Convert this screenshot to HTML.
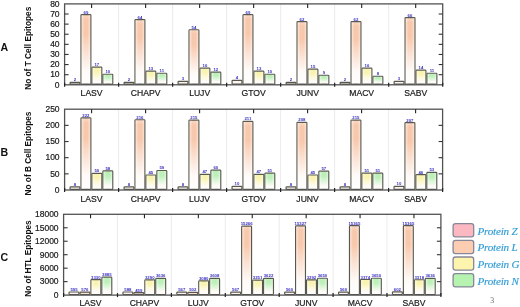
<!DOCTYPE html>
<html><head><meta charset="utf-8"><title>Epitopes chart</title>
<style>html,body{margin:0;padding:0;background:#fff;}body{width:520px;height:307px;overflow:hidden;}svg{display:block;will-change:transform;}.t{font-family:"Liberation Sans",sans-serif;}</style></head><body>
<svg width="520" height="307" viewBox="0 0 520 307">
<defs>
<linearGradient id="g0" x1="0" y1="0" x2="0" y2="1"><stop offset="0" stop-color="#fcd6da"/><stop offset="0.07" stop-color="#f9bcc3"/><stop offset="0.28" stop-color="#f9bcc3"/><stop offset="0.55" stop-color="#fcdfe2"/><stop offset="0.8" stop-color="#fefaf7"/><stop offset="1" stop-color="#ffffff"/></linearGradient>
<linearGradient id="g1" x1="0" y1="0" x2="0" y2="1"><stop offset="0" stop-color="#fbdac8"/><stop offset="0.07" stop-color="#f8c8ac"/><stop offset="0.28" stop-color="#f8c8ac"/><stop offset="0.55" stop-color="#fbe2d4"/><stop offset="0.8" stop-color="#fefaf7"/><stop offset="1" stop-color="#ffffff"/></linearGradient>
<linearGradient id="g2" x1="0" y1="0" x2="0" y2="1"><stop offset="0" stop-color="#fbf8d6"/><stop offset="0.07" stop-color="#f9f3b0"/><stop offset="0.28" stop-color="#f9f3b0"/><stop offset="0.55" stop-color="#fcf9d8"/><stop offset="0.8" stop-color="#fefaf7"/><stop offset="1" stop-color="#ffffff"/></linearGradient>
<linearGradient id="g3" x1="0" y1="0" x2="0" y2="1"><stop offset="0" stop-color="#dcf8d8"/><stop offset="0.07" stop-color="#bdf0b9"/><stop offset="0.28" stop-color="#bdf0b9"/><stop offset="0.55" stop-color="#dcf7d9"/><stop offset="0.8" stop-color="#fefaf7"/><stop offset="1" stop-color="#ffffff"/></linearGradient>
<linearGradient id="hl" x1="0" y1="0" x2="1" y2="0"><stop offset="0" stop-color="#fff" stop-opacity="0.55"/><stop offset="0.3" stop-color="#fff" stop-opacity="0"/><stop offset="0.7" stop-color="#fff" stop-opacity="0"/><stop offset="1" stop-color="#fff" stop-opacity="0.45"/></linearGradient>
</defs>
<rect x="0" y="0" width="520" height="307" fill="#ffffff"/>
<line x1="118.61" y1="3.90" x2="118.61" y2="84.80" stroke="#e9e9e9" stroke-width="0.9"/>
<line x1="172.63" y1="3.90" x2="172.63" y2="84.80" stroke="#e9e9e9" stroke-width="0.9"/>
<line x1="226.64" y1="3.90" x2="226.64" y2="84.80" stroke="#e9e9e9" stroke-width="0.9"/>
<line x1="280.66" y1="3.90" x2="280.66" y2="84.80" stroke="#e9e9e9" stroke-width="0.9"/>
<line x1="334.67" y1="3.90" x2="334.67" y2="84.80" stroke="#e9e9e9" stroke-width="0.9"/>
<line x1="388.69" y1="3.90" x2="388.69" y2="84.80" stroke="#e9e9e9" stroke-width="0.9"/>
<rect x="70.05" y="82.33" width="9.85" height="1.87" fill="#fff4f2" stroke="#58584f" stroke-width="1.2" rx="0.7"/>
<text x="74.97" y="81.33" class="t" font-size="4.3" font-weight="bold" fill="#3a30c0" text-anchor="middle">2</text>
<rect x="81.00" y="14.57" width="9.85" height="69.63" fill="url(#g1)" stroke="#58584f" stroke-width="1.2" rx="0.7"/>
<rect x="81.55" y="15.17" width="8.75" height="68.43" fill="url(#hl)"/>
<text x="85.92" y="13.57" class="t" font-size="4.3" font-weight="bold" fill="#3a30c0" text-anchor="middle">69</text>
<rect x="91.95" y="67.16" width="9.85" height="17.04" fill="url(#g2)" stroke="#58584f" stroke-width="1.2" rx="0.7"/>
<rect x="92.50" y="67.76" width="8.75" height="15.84" fill="url(#hl)"/>
<text x="96.88" y="66.16" class="t" font-size="4.3" font-weight="bold" fill="#3a30c0" text-anchor="middle">17</text>
<rect x="102.90" y="74.24" width="9.85" height="9.96" fill="url(#g3)" stroke="#58584f" stroke-width="1.2" rx="0.7"/>
<rect x="103.45" y="74.84" width="8.75" height="8.76" fill="url(#hl)"/>
<text x="107.82" y="73.24" class="t" font-size="4.3" font-weight="bold" fill="#3a30c0" text-anchor="middle">10</text>
<rect x="124.06" y="82.33" width="9.85" height="1.87" fill="#fff4f2" stroke="#58584f" stroke-width="1.2" rx="0.7"/>
<text x="128.99" y="81.33" class="t" font-size="4.3" font-weight="bold" fill="#3a30c0" text-anchor="middle">2</text>
<rect x="135.01" y="19.63" width="9.85" height="64.57" fill="url(#g1)" stroke="#58584f" stroke-width="1.2" rx="0.7"/>
<rect x="135.56" y="20.23" width="8.75" height="63.37" fill="url(#hl)"/>
<text x="139.94" y="18.63" class="t" font-size="4.3" font-weight="bold" fill="#3a30c0" text-anchor="middle">64</text>
<rect x="145.96" y="71.20" width="9.85" height="13.00" fill="url(#g2)" stroke="#58584f" stroke-width="1.2" rx="0.7"/>
<rect x="146.51" y="71.80" width="8.75" height="11.80" fill="url(#hl)"/>
<text x="150.89" y="70.20" class="t" font-size="4.3" font-weight="bold" fill="#3a30c0" text-anchor="middle">13</text>
<rect x="156.91" y="73.23" width="9.85" height="10.97" fill="url(#g3)" stroke="#58584f" stroke-width="1.2" rx="0.7"/>
<rect x="157.46" y="73.83" width="8.75" height="9.77" fill="url(#hl)"/>
<text x="161.84" y="72.23" class="t" font-size="4.3" font-weight="bold" fill="#3a30c0" text-anchor="middle">11</text>
<rect x="178.08" y="81.32" width="9.85" height="2.88" fill="#fff4f2" stroke="#58584f" stroke-width="1.2" rx="0.7"/>
<text x="183.00" y="80.32" class="t" font-size="4.3" font-weight="bold" fill="#3a30c0" text-anchor="middle">3</text>
<rect x="189.03" y="29.74" width="9.85" height="54.46" fill="url(#g1)" stroke="#58584f" stroke-width="1.2" rx="0.7"/>
<rect x="189.58" y="30.34" width="8.75" height="53.26" fill="url(#hl)"/>
<text x="193.95" y="28.74" class="t" font-size="4.3" font-weight="bold" fill="#3a30c0" text-anchor="middle">54</text>
<rect x="199.98" y="68.17" width="9.85" height="16.03" fill="url(#g2)" stroke="#58584f" stroke-width="1.2" rx="0.7"/>
<rect x="200.53" y="68.77" width="8.75" height="14.83" fill="url(#hl)"/>
<text x="204.90" y="67.17" class="t" font-size="4.3" font-weight="bold" fill="#3a30c0" text-anchor="middle">16</text>
<rect x="210.93" y="72.21" width="9.85" height="11.99" fill="url(#g3)" stroke="#58584f" stroke-width="1.2" rx="0.7"/>
<rect x="211.48" y="72.81" width="8.75" height="10.79" fill="url(#hl)"/>
<text x="215.85" y="71.21" class="t" font-size="4.3" font-weight="bold" fill="#3a30c0" text-anchor="middle">12</text>
<rect x="232.09" y="80.30" width="9.85" height="3.90" fill="#fff4f2" stroke="#58584f" stroke-width="1.2" rx="0.7"/>
<text x="237.02" y="79.30" class="t" font-size="4.3" font-weight="bold" fill="#3a30c0" text-anchor="middle">4</text>
<rect x="243.04" y="14.57" width="9.85" height="69.63" fill="url(#g1)" stroke="#58584f" stroke-width="1.2" rx="0.7"/>
<rect x="243.59" y="15.17" width="8.75" height="68.43" fill="url(#hl)"/>
<text x="247.97" y="13.57" class="t" font-size="4.3" font-weight="bold" fill="#3a30c0" text-anchor="middle">69</text>
<rect x="253.99" y="71.20" width="9.85" height="13.00" fill="url(#g2)" stroke="#58584f" stroke-width="1.2" rx="0.7"/>
<rect x="254.54" y="71.80" width="8.75" height="11.80" fill="url(#hl)"/>
<text x="258.92" y="70.20" class="t" font-size="4.3" font-weight="bold" fill="#3a30c0" text-anchor="middle">13</text>
<rect x="264.94" y="74.24" width="9.85" height="9.96" fill="url(#g3)" stroke="#58584f" stroke-width="1.2" rx="0.7"/>
<rect x="265.49" y="74.84" width="8.75" height="8.76" fill="url(#hl)"/>
<text x="269.87" y="73.24" class="t" font-size="4.3" font-weight="bold" fill="#3a30c0" text-anchor="middle">10</text>
<rect x="286.11" y="82.33" width="9.85" height="1.87" fill="#fff4f2" stroke="#58584f" stroke-width="1.2" rx="0.7"/>
<text x="291.03" y="81.33" class="t" font-size="4.3" font-weight="bold" fill="#3a30c0" text-anchor="middle">2</text>
<rect x="297.06" y="21.65" width="9.85" height="62.55" fill="url(#g1)" stroke="#58584f" stroke-width="1.2" rx="0.7"/>
<rect x="297.61" y="22.25" width="8.75" height="61.35" fill="url(#hl)"/>
<text x="301.98" y="20.65" class="t" font-size="4.3" font-weight="bold" fill="#3a30c0" text-anchor="middle">62</text>
<rect x="308.01" y="69.18" width="9.85" height="15.02" fill="url(#g2)" stroke="#58584f" stroke-width="1.2" rx="0.7"/>
<rect x="308.56" y="69.78" width="8.75" height="13.82" fill="url(#hl)"/>
<text x="312.93" y="68.18" class="t" font-size="4.3" font-weight="bold" fill="#3a30c0" text-anchor="middle">15</text>
<rect x="318.96" y="75.25" width="9.85" height="8.95" fill="url(#g3)" stroke="#58584f" stroke-width="1.2" rx="0.7"/>
<rect x="319.51" y="75.85" width="8.75" height="7.75" fill="url(#hl)"/>
<text x="323.88" y="74.25" class="t" font-size="4.3" font-weight="bold" fill="#3a30c0" text-anchor="middle">9</text>
<rect x="340.12" y="82.33" width="9.85" height="1.87" fill="#fff4f2" stroke="#58584f" stroke-width="1.2" rx="0.7"/>
<text x="345.05" y="81.33" class="t" font-size="4.3" font-weight="bold" fill="#3a30c0" text-anchor="middle">2</text>
<rect x="351.07" y="21.65" width="9.85" height="62.55" fill="url(#g1)" stroke="#58584f" stroke-width="1.2" rx="0.7"/>
<rect x="351.62" y="22.25" width="8.75" height="61.35" fill="url(#hl)"/>
<text x="356.00" y="20.65" class="t" font-size="4.3" font-weight="bold" fill="#3a30c0" text-anchor="middle">62</text>
<rect x="362.02" y="68.17" width="9.85" height="16.03" fill="url(#g2)" stroke="#58584f" stroke-width="1.2" rx="0.7"/>
<rect x="362.57" y="68.77" width="8.75" height="14.83" fill="url(#hl)"/>
<text x="366.95" y="67.17" class="t" font-size="4.3" font-weight="bold" fill="#3a30c0" text-anchor="middle">16</text>
<rect x="372.97" y="76.26" width="9.85" height="7.94" fill="url(#g3)" stroke="#58584f" stroke-width="1.2" rx="0.7"/>
<rect x="373.52" y="76.86" width="8.75" height="6.74" fill="url(#hl)"/>
<text x="377.90" y="75.26" class="t" font-size="4.3" font-weight="bold" fill="#3a30c0" text-anchor="middle">8</text>
<rect x="394.14" y="81.32" width="9.85" height="2.88" fill="#fff4f2" stroke="#58584f" stroke-width="1.2" rx="0.7"/>
<text x="399.06" y="80.32" class="t" font-size="4.3" font-weight="bold" fill="#3a30c0" text-anchor="middle">3</text>
<rect x="405.09" y="17.61" width="9.85" height="66.59" fill="url(#g1)" stroke="#58584f" stroke-width="1.2" rx="0.7"/>
<rect x="405.64" y="18.21" width="8.75" height="65.39" fill="url(#hl)"/>
<text x="410.01" y="16.61" class="t" font-size="4.3" font-weight="bold" fill="#3a30c0" text-anchor="middle">66</text>
<rect x="416.04" y="70.19" width="9.85" height="14.01" fill="url(#g2)" stroke="#58584f" stroke-width="1.2" rx="0.7"/>
<rect x="416.59" y="70.79" width="8.75" height="12.81" fill="url(#hl)"/>
<text x="420.96" y="69.19" class="t" font-size="4.3" font-weight="bold" fill="#3a30c0" text-anchor="middle">14</text>
<rect x="426.99" y="73.23" width="9.85" height="10.97" fill="url(#g3)" stroke="#58584f" stroke-width="1.2" rx="0.7"/>
<rect x="427.54" y="73.83" width="8.75" height="9.77" fill="url(#hl)"/>
<text x="431.91" y="72.23" class="t" font-size="4.3" font-weight="bold" fill="#3a30c0" text-anchor="middle">11</text>
<rect x="64.60" y="3.90" width="378.10" height="80.90" fill="none" stroke="#525252" stroke-width="1.3"/>
<text x="59.60" y="87.60" class="t" font-size="8.5" fill="#1a1a1a" stroke="#1a1a1a" stroke-width="0.2" text-anchor="end">0</text>
<line x1="64.60" y1="74.69" x2="68.60" y2="74.69" stroke="#333" stroke-width="1.1"/>
<line x1="438.70" y1="74.69" x2="442.70" y2="74.69" stroke="#333" stroke-width="1.1"/>
<text x="59.60" y="77.49" class="t" font-size="8.5" fill="#1a1a1a" stroke="#1a1a1a" stroke-width="0.2" text-anchor="end">10</text>
<line x1="64.60" y1="64.57" x2="68.60" y2="64.57" stroke="#333" stroke-width="1.1"/>
<line x1="438.70" y1="64.57" x2="442.70" y2="64.57" stroke="#333" stroke-width="1.1"/>
<text x="59.60" y="67.37" class="t" font-size="8.5" fill="#1a1a1a" stroke="#1a1a1a" stroke-width="0.2" text-anchor="end">20</text>
<line x1="64.60" y1="54.46" x2="68.60" y2="54.46" stroke="#333" stroke-width="1.1"/>
<line x1="438.70" y1="54.46" x2="442.70" y2="54.46" stroke="#333" stroke-width="1.1"/>
<text x="59.60" y="57.26" class="t" font-size="8.5" fill="#1a1a1a" stroke="#1a1a1a" stroke-width="0.2" text-anchor="end">30</text>
<line x1="64.60" y1="44.35" x2="68.60" y2="44.35" stroke="#333" stroke-width="1.1"/>
<line x1="438.70" y1="44.35" x2="442.70" y2="44.35" stroke="#333" stroke-width="1.1"/>
<text x="59.60" y="47.15" class="t" font-size="8.5" fill="#1a1a1a" stroke="#1a1a1a" stroke-width="0.2" text-anchor="end">40</text>
<line x1="64.60" y1="34.24" x2="68.60" y2="34.24" stroke="#333" stroke-width="1.1"/>
<line x1="438.70" y1="34.24" x2="442.70" y2="34.24" stroke="#333" stroke-width="1.1"/>
<text x="59.60" y="37.04" class="t" font-size="8.5" fill="#1a1a1a" stroke="#1a1a1a" stroke-width="0.2" text-anchor="end">50</text>
<line x1="64.60" y1="24.12" x2="68.60" y2="24.12" stroke="#333" stroke-width="1.1"/>
<line x1="438.70" y1="24.12" x2="442.70" y2="24.12" stroke="#333" stroke-width="1.1"/>
<text x="59.60" y="26.93" class="t" font-size="8.5" fill="#1a1a1a" stroke="#1a1a1a" stroke-width="0.2" text-anchor="end">60</text>
<line x1="64.60" y1="14.01" x2="68.60" y2="14.01" stroke="#333" stroke-width="1.1"/>
<line x1="438.70" y1="14.01" x2="442.70" y2="14.01" stroke="#333" stroke-width="1.1"/>
<text x="59.60" y="16.81" class="t" font-size="8.5" fill="#1a1a1a" stroke="#1a1a1a" stroke-width="0.2" text-anchor="end">70</text>
<text x="59.60" y="6.70" class="t" font-size="8.5" fill="#1a1a1a" stroke="#1a1a1a" stroke-width="0.2" text-anchor="end">80</text>
<line x1="91.61" y1="3.90" x2="91.61" y2="7.90" stroke="#222" stroke-width="1.1"/>
<line x1="145.62" y1="3.90" x2="145.62" y2="7.90" stroke="#222" stroke-width="1.1"/>
<line x1="199.64" y1="3.90" x2="199.64" y2="7.90" stroke="#222" stroke-width="1.1"/>
<line x1="253.65" y1="3.90" x2="253.65" y2="7.90" stroke="#222" stroke-width="1.1"/>
<line x1="307.66" y1="3.90" x2="307.66" y2="7.90" stroke="#222" stroke-width="1.1"/>
<line x1="361.68" y1="3.90" x2="361.68" y2="7.90" stroke="#222" stroke-width="1.1"/>
<line x1="415.69" y1="3.90" x2="415.69" y2="7.90" stroke="#222" stroke-width="1.1"/>
<line x1="64.60" y1="82.80" x2="64.60" y2="86.80" stroke="#222" stroke-width="1.2"/>
<line x1="118.61" y1="82.80" x2="118.61" y2="86.80" stroke="#222" stroke-width="1.2"/>
<line x1="172.63" y1="82.80" x2="172.63" y2="86.80" stroke="#222" stroke-width="1.2"/>
<line x1="226.64" y1="82.80" x2="226.64" y2="86.80" stroke="#222" stroke-width="1.2"/>
<line x1="280.66" y1="82.80" x2="280.66" y2="86.80" stroke="#222" stroke-width="1.2"/>
<line x1="334.67" y1="82.80" x2="334.67" y2="86.80" stroke="#222" stroke-width="1.2"/>
<line x1="388.69" y1="82.80" x2="388.69" y2="86.80" stroke="#222" stroke-width="1.2"/>
<line x1="442.70" y1="82.80" x2="442.70" y2="86.80" stroke="#222" stroke-width="1.2"/>
<text x="91.61" y="96.20" class="t" font-size="8.6" fill="#1a1a1a" stroke="#1a1a1a" stroke-width="0.2" text-anchor="middle">LASV</text>
<text x="145.62" y="96.20" class="t" font-size="8.6" fill="#1a1a1a" stroke="#1a1a1a" stroke-width="0.2" text-anchor="middle">CHAPV</text>
<text x="199.64" y="96.20" class="t" font-size="8.6" fill="#1a1a1a" stroke="#1a1a1a" stroke-width="0.2" text-anchor="middle">LUJV</text>
<text x="253.65" y="96.20" class="t" font-size="8.6" fill="#1a1a1a" stroke="#1a1a1a" stroke-width="0.2" text-anchor="middle">GTOV</text>
<text x="307.66" y="96.20" class="t" font-size="8.6" fill="#1a1a1a" stroke="#1a1a1a" stroke-width="0.2" text-anchor="middle">JUNV</text>
<text x="361.68" y="96.20" class="t" font-size="8.6" fill="#1a1a1a" stroke="#1a1a1a" stroke-width="0.2" text-anchor="middle">MACV</text>
<text x="415.69" y="96.20" class="t" font-size="8.6" fill="#1a1a1a" stroke="#1a1a1a" stroke-width="0.2" text-anchor="middle">SABV</text>
<text transform="translate(31.3 48.25) rotate(-90)" x="0" y="0" class="t" font-size="8.25" font-weight="bold" fill="#111" text-anchor="middle">No of T Cell Epitopes</text>
<text x="0.4" y="50.9" class="t" font-size="10.6" font-weight="bold" fill="#111">A</text>
<line x1="118.60" y1="109.20" x2="118.60" y2="190.00" stroke="#e9e9e9" stroke-width="0.9"/>
<line x1="172.60" y1="109.20" x2="172.60" y2="190.00" stroke="#e9e9e9" stroke-width="0.9"/>
<line x1="226.60" y1="109.20" x2="226.60" y2="190.00" stroke="#e9e9e9" stroke-width="0.9"/>
<line x1="280.60" y1="109.20" x2="280.60" y2="190.00" stroke="#e9e9e9" stroke-width="0.9"/>
<line x1="334.60" y1="109.20" x2="334.60" y2="190.00" stroke="#e9e9e9" stroke-width="0.9"/>
<line x1="388.60" y1="109.20" x2="388.60" y2="190.00" stroke="#e9e9e9" stroke-width="0.9"/>
<rect x="70.05" y="186.96" width="9.85" height="2.44" fill="#fff4f2" stroke="#58584f" stroke-width="1.2" rx="0.7"/>
<text x="74.97" y="185.96" class="t" font-size="4.3" font-weight="bold" fill="#3a30c0" text-anchor="middle">8</text>
<rect x="81.00" y="117.80" width="9.85" height="71.60" fill="url(#g1)" stroke="#58584f" stroke-width="1.2" rx="0.7"/>
<rect x="81.55" y="118.40" width="8.75" height="70.40" fill="url(#hl)"/>
<text x="85.92" y="116.80" class="t" font-size="4.3" font-weight="bold" fill="#3a30c0" text-anchor="middle">222</text>
<rect x="91.95" y="173.39" width="9.85" height="16.01" fill="url(#g2)" stroke="#58584f" stroke-width="1.2" rx="0.7"/>
<rect x="92.50" y="173.99" width="8.75" height="14.81" fill="url(#hl)"/>
<text x="96.88" y="172.39" class="t" font-size="4.3" font-weight="bold" fill="#3a30c0" text-anchor="middle">50</text>
<rect x="102.90" y="170.80" width="9.85" height="18.60" fill="url(#g3)" stroke="#58584f" stroke-width="1.2" rx="0.7"/>
<rect x="103.45" y="171.40" width="8.75" height="17.40" fill="url(#hl)"/>
<text x="107.82" y="169.80" class="t" font-size="4.3" font-weight="bold" fill="#3a30c0" text-anchor="middle">58</text>
<rect x="124.05" y="186.96" width="9.85" height="2.44" fill="#fff4f2" stroke="#58584f" stroke-width="1.2" rx="0.7"/>
<text x="128.97" y="185.96" class="t" font-size="4.3" font-weight="bold" fill="#3a30c0" text-anchor="middle">8</text>
<rect x="135.00" y="119.74" width="9.85" height="69.66" fill="url(#g1)" stroke="#58584f" stroke-width="1.2" rx="0.7"/>
<rect x="135.55" y="120.34" width="8.75" height="68.46" fill="url(#hl)"/>
<text x="139.92" y="118.74" class="t" font-size="4.3" font-weight="bold" fill="#3a30c0" text-anchor="middle">216</text>
<rect x="145.95" y="175.01" width="9.85" height="14.39" fill="url(#g2)" stroke="#58584f" stroke-width="1.2" rx="0.7"/>
<rect x="146.50" y="175.61" width="8.75" height="13.19" fill="url(#hl)"/>
<text x="150.88" y="174.01" class="t" font-size="4.3" font-weight="bold" fill="#3a30c0" text-anchor="middle">45</text>
<rect x="156.90" y="170.48" width="9.85" height="18.92" fill="url(#g3)" stroke="#58584f" stroke-width="1.2" rx="0.7"/>
<rect x="157.45" y="171.08" width="8.75" height="17.72" fill="url(#hl)"/>
<text x="161.82" y="169.48" class="t" font-size="4.3" font-weight="bold" fill="#3a30c0" text-anchor="middle">59</text>
<rect x="178.05" y="186.96" width="9.85" height="2.44" fill="#fff4f2" stroke="#58584f" stroke-width="1.2" rx="0.7"/>
<text x="182.97" y="185.96" class="t" font-size="4.3" font-weight="bold" fill="#3a30c0" text-anchor="middle">8</text>
<rect x="189.00" y="120.06" width="9.85" height="69.34" fill="url(#g1)" stroke="#58584f" stroke-width="1.2" rx="0.7"/>
<rect x="189.55" y="120.66" width="8.75" height="68.14" fill="url(#hl)"/>
<text x="193.92" y="119.06" class="t" font-size="4.3" font-weight="bold" fill="#3a30c0" text-anchor="middle">215</text>
<rect x="199.95" y="174.36" width="9.85" height="15.04" fill="url(#g2)" stroke="#58584f" stroke-width="1.2" rx="0.7"/>
<rect x="200.50" y="174.96" width="8.75" height="13.84" fill="url(#hl)"/>
<text x="204.88" y="173.36" class="t" font-size="4.3" font-weight="bold" fill="#3a30c0" text-anchor="middle">47</text>
<rect x="210.90" y="170.16" width="9.85" height="19.24" fill="url(#g3)" stroke="#58584f" stroke-width="1.2" rx="0.7"/>
<rect x="211.45" y="170.76" width="8.75" height="18.04" fill="url(#hl)"/>
<text x="215.82" y="169.16" class="t" font-size="4.3" font-weight="bold" fill="#3a30c0" text-anchor="middle">60</text>
<rect x="232.05" y="186.32" width="9.85" height="3.08" fill="#fff4f2" stroke="#58584f" stroke-width="1.2" rx="0.7"/>
<text x="236.97" y="185.32" class="t" font-size="4.3" font-weight="bold" fill="#3a30c0" text-anchor="middle">10</text>
<rect x="243.00" y="121.35" width="9.85" height="68.05" fill="url(#g1)" stroke="#58584f" stroke-width="1.2" rx="0.7"/>
<rect x="243.55" y="121.95" width="8.75" height="66.85" fill="url(#hl)"/>
<text x="247.92" y="120.35" class="t" font-size="4.3" font-weight="bold" fill="#3a30c0" text-anchor="middle">211</text>
<rect x="253.95" y="174.36" width="9.85" height="15.04" fill="url(#g2)" stroke="#58584f" stroke-width="1.2" rx="0.7"/>
<rect x="254.50" y="174.96" width="8.75" height="13.84" fill="url(#hl)"/>
<text x="258.88" y="173.36" class="t" font-size="4.3" font-weight="bold" fill="#3a30c0" text-anchor="middle">47</text>
<rect x="264.90" y="173.07" width="9.85" height="16.33" fill="url(#g3)" stroke="#58584f" stroke-width="1.2" rx="0.7"/>
<rect x="265.45" y="173.67" width="8.75" height="15.13" fill="url(#hl)"/>
<text x="269.83" y="172.07" class="t" font-size="4.3" font-weight="bold" fill="#3a30c0" text-anchor="middle">51</text>
<rect x="286.05" y="186.96" width="9.85" height="2.44" fill="#fff4f2" stroke="#58584f" stroke-width="1.2" rx="0.7"/>
<text x="290.98" y="185.96" class="t" font-size="4.3" font-weight="bold" fill="#3a30c0" text-anchor="middle">8</text>
<rect x="297.00" y="122.32" width="9.85" height="67.08" fill="url(#g1)" stroke="#58584f" stroke-width="1.2" rx="0.7"/>
<rect x="297.55" y="122.92" width="8.75" height="65.88" fill="url(#hl)"/>
<text x="301.93" y="121.32" class="t" font-size="4.3" font-weight="bold" fill="#3a30c0" text-anchor="middle">208</text>
<rect x="307.95" y="175.01" width="9.85" height="14.39" fill="url(#g2)" stroke="#58584f" stroke-width="1.2" rx="0.7"/>
<rect x="308.50" y="175.61" width="8.75" height="13.19" fill="url(#hl)"/>
<text x="312.88" y="174.01" class="t" font-size="4.3" font-weight="bold" fill="#3a30c0" text-anchor="middle">45</text>
<rect x="318.90" y="171.13" width="9.85" height="18.27" fill="url(#g3)" stroke="#58584f" stroke-width="1.2" rx="0.7"/>
<rect x="319.45" y="171.73" width="8.75" height="17.07" fill="url(#hl)"/>
<text x="323.83" y="170.13" class="t" font-size="4.3" font-weight="bold" fill="#3a30c0" text-anchor="middle">57</text>
<rect x="340.05" y="186.96" width="9.85" height="2.44" fill="#fff4f2" stroke="#58584f" stroke-width="1.2" rx="0.7"/>
<text x="344.98" y="185.96" class="t" font-size="4.3" font-weight="bold" fill="#3a30c0" text-anchor="middle">8</text>
<rect x="351.00" y="120.06" width="9.85" height="69.34" fill="url(#g1)" stroke="#58584f" stroke-width="1.2" rx="0.7"/>
<rect x="351.55" y="120.66" width="8.75" height="68.14" fill="url(#hl)"/>
<text x="355.93" y="119.06" class="t" font-size="4.3" font-weight="bold" fill="#3a30c0" text-anchor="middle">215</text>
<rect x="361.95" y="173.07" width="9.85" height="16.33" fill="url(#g2)" stroke="#58584f" stroke-width="1.2" rx="0.7"/>
<rect x="362.50" y="173.67" width="8.75" height="15.13" fill="url(#hl)"/>
<text x="366.88" y="172.07" class="t" font-size="4.3" font-weight="bold" fill="#3a30c0" text-anchor="middle">51</text>
<rect x="372.90" y="173.07" width="9.85" height="16.33" fill="url(#g3)" stroke="#58584f" stroke-width="1.2" rx="0.7"/>
<rect x="373.45" y="173.67" width="8.75" height="15.13" fill="url(#hl)"/>
<text x="377.83" y="172.07" class="t" font-size="4.3" font-weight="bold" fill="#3a30c0" text-anchor="middle">51</text>
<rect x="394.05" y="186.32" width="9.85" height="3.08" fill="#fff4f2" stroke="#58584f" stroke-width="1.2" rx="0.7"/>
<text x="398.98" y="185.32" class="t" font-size="4.3" font-weight="bold" fill="#3a30c0" text-anchor="middle">10</text>
<rect x="405.00" y="122.65" width="9.85" height="66.75" fill="url(#g1)" stroke="#58584f" stroke-width="1.2" rx="0.7"/>
<rect x="405.55" y="123.25" width="8.75" height="65.55" fill="url(#hl)"/>
<text x="409.93" y="121.65" class="t" font-size="4.3" font-weight="bold" fill="#3a30c0" text-anchor="middle">207</text>
<rect x="415.95" y="174.68" width="9.85" height="14.72" fill="url(#g2)" stroke="#58584f" stroke-width="1.2" rx="0.7"/>
<rect x="416.50" y="175.28" width="8.75" height="13.52" fill="url(#hl)"/>
<text x="420.88" y="173.68" class="t" font-size="4.3" font-weight="bold" fill="#3a30c0" text-anchor="middle">46</text>
<rect x="426.90" y="172.42" width="9.85" height="16.98" fill="url(#g3)" stroke="#58584f" stroke-width="1.2" rx="0.7"/>
<rect x="427.45" y="173.02" width="8.75" height="15.78" fill="url(#hl)"/>
<text x="431.83" y="171.42" class="t" font-size="4.3" font-weight="bold" fill="#3a30c0" text-anchor="middle">53</text>
<rect x="64.60" y="109.20" width="378.00" height="80.80" fill="none" stroke="#525252" stroke-width="1.3"/>
<text x="59.60" y="192.80" class="t" font-size="8.5" fill="#1a1a1a" stroke="#1a1a1a" stroke-width="0.2" text-anchor="end">0</text>
<line x1="64.60" y1="173.84" x2="68.60" y2="173.84" stroke="#333" stroke-width="1.1"/>
<line x1="438.60" y1="173.84" x2="442.60" y2="173.84" stroke="#333" stroke-width="1.1"/>
<text x="59.60" y="176.64" class="t" font-size="8.5" fill="#1a1a1a" stroke="#1a1a1a" stroke-width="0.2" text-anchor="end">50</text>
<line x1="64.60" y1="157.68" x2="68.60" y2="157.68" stroke="#333" stroke-width="1.1"/>
<line x1="438.60" y1="157.68" x2="442.60" y2="157.68" stroke="#333" stroke-width="1.1"/>
<text x="59.60" y="160.48" class="t" font-size="8.5" fill="#1a1a1a" stroke="#1a1a1a" stroke-width="0.2" text-anchor="end">100</text>
<line x1="64.60" y1="141.52" x2="68.60" y2="141.52" stroke="#333" stroke-width="1.1"/>
<line x1="438.60" y1="141.52" x2="442.60" y2="141.52" stroke="#333" stroke-width="1.1"/>
<text x="59.60" y="144.32" class="t" font-size="8.5" fill="#1a1a1a" stroke="#1a1a1a" stroke-width="0.2" text-anchor="end">150</text>
<line x1="64.60" y1="125.36" x2="68.60" y2="125.36" stroke="#333" stroke-width="1.1"/>
<line x1="438.60" y1="125.36" x2="442.60" y2="125.36" stroke="#333" stroke-width="1.1"/>
<text x="59.60" y="128.16" class="t" font-size="8.5" fill="#1a1a1a" stroke="#1a1a1a" stroke-width="0.2" text-anchor="end">200</text>
<text x="59.60" y="112.00" class="t" font-size="8.5" fill="#1a1a1a" stroke="#1a1a1a" stroke-width="0.2" text-anchor="end">250</text>
<line x1="91.60" y1="109.20" x2="91.60" y2="113.20" stroke="#222" stroke-width="1.1"/>
<line x1="145.60" y1="109.20" x2="145.60" y2="113.20" stroke="#222" stroke-width="1.1"/>
<line x1="199.60" y1="109.20" x2="199.60" y2="113.20" stroke="#222" stroke-width="1.1"/>
<line x1="253.60" y1="109.20" x2="253.60" y2="113.20" stroke="#222" stroke-width="1.1"/>
<line x1="307.60" y1="109.20" x2="307.60" y2="113.20" stroke="#222" stroke-width="1.1"/>
<line x1="361.60" y1="109.20" x2="361.60" y2="113.20" stroke="#222" stroke-width="1.1"/>
<line x1="415.60" y1="109.20" x2="415.60" y2="113.20" stroke="#222" stroke-width="1.1"/>
<line x1="64.60" y1="188.00" x2="64.60" y2="192.00" stroke="#222" stroke-width="1.2"/>
<line x1="118.60" y1="188.00" x2="118.60" y2="192.00" stroke="#222" stroke-width="1.2"/>
<line x1="172.60" y1="188.00" x2="172.60" y2="192.00" stroke="#222" stroke-width="1.2"/>
<line x1="226.60" y1="188.00" x2="226.60" y2="192.00" stroke="#222" stroke-width="1.2"/>
<line x1="280.60" y1="188.00" x2="280.60" y2="192.00" stroke="#222" stroke-width="1.2"/>
<line x1="334.60" y1="188.00" x2="334.60" y2="192.00" stroke="#222" stroke-width="1.2"/>
<line x1="388.60" y1="188.00" x2="388.60" y2="192.00" stroke="#222" stroke-width="1.2"/>
<line x1="442.60" y1="188.00" x2="442.60" y2="192.00" stroke="#222" stroke-width="1.2"/>
<text x="91.60" y="201.60" class="t" font-size="8.6" fill="#1a1a1a" stroke="#1a1a1a" stroke-width="0.2" text-anchor="middle">LASV</text>
<text x="145.60" y="201.60" class="t" font-size="8.6" fill="#1a1a1a" stroke="#1a1a1a" stroke-width="0.2" text-anchor="middle">CHAPV</text>
<text x="199.60" y="201.60" class="t" font-size="8.6" fill="#1a1a1a" stroke="#1a1a1a" stroke-width="0.2" text-anchor="middle">LUJV</text>
<text x="253.60" y="201.60" class="t" font-size="8.6" fill="#1a1a1a" stroke="#1a1a1a" stroke-width="0.2" text-anchor="middle">GTOV</text>
<text x="307.60" y="201.60" class="t" font-size="8.6" fill="#1a1a1a" stroke="#1a1a1a" stroke-width="0.2" text-anchor="middle">JUNV</text>
<text x="361.60" y="201.60" class="t" font-size="8.6" fill="#1a1a1a" stroke="#1a1a1a" stroke-width="0.2" text-anchor="middle">MACV</text>
<text x="415.60" y="201.60" class="t" font-size="8.6" fill="#1a1a1a" stroke="#1a1a1a" stroke-width="0.2" text-anchor="middle">SABV</text>
<text transform="translate(31.3 153.50) rotate(-90)" x="0" y="0" class="t" font-size="8.25" font-weight="bold" fill="#111" text-anchor="middle">No of B Cell Epitopes</text>
<text x="0.5" y="156.0" class="t" font-size="10.6" font-weight="bold" fill="#111">B</text>
<line x1="117.50" y1="214.30" x2="117.50" y2="295.10" stroke="#e9e9e9" stroke-width="0.9"/>
<line x1="171.40" y1="214.30" x2="171.40" y2="295.10" stroke="#e9e9e9" stroke-width="0.9"/>
<line x1="225.30" y1="214.30" x2="225.30" y2="295.10" stroke="#e9e9e9" stroke-width="0.9"/>
<line x1="279.20" y1="214.30" x2="279.20" y2="295.10" stroke="#e9e9e9" stroke-width="0.9"/>
<line x1="333.10" y1="214.30" x2="333.10" y2="295.10" stroke="#e9e9e9" stroke-width="0.9"/>
<line x1="387.00" y1="214.30" x2="387.00" y2="295.10" stroke="#e9e9e9" stroke-width="0.9"/>
<rect x="69.05" y="291.98" width="9.85" height="2.52" fill="#fff4f2" stroke="#58584f" stroke-width="1.2" rx="0.7"/>
<text x="73.97" y="290.98" class="t" font-size="4.3" font-weight="bold" fill="#3a30c0" text-anchor="middle">595</text>
<rect x="80.00" y="292.06" width="9.85" height="2.44" fill="url(#g1)" stroke="#58584f" stroke-width="1.2" rx="0.7"/>
<text x="84.92" y="291.06" class="t" font-size="4.3" font-weight="bold" fill="#3a30c0" text-anchor="middle">576</text>
<rect x="90.95" y="279.70" width="9.85" height="14.80" fill="url(#g2)" stroke="#58584f" stroke-width="1.2" rx="0.7"/>
<rect x="91.50" y="280.30" width="8.75" height="13.60" fill="url(#hl)"/>
<text x="95.88" y="278.70" class="t" font-size="4.3" font-weight="bold" fill="#3a30c0" text-anchor="middle">3330</text>
<rect x="101.90" y="277.21" width="9.85" height="17.29" fill="url(#g3)" stroke="#58584f" stroke-width="1.2" rx="0.7"/>
<rect x="102.45" y="277.81" width="8.75" height="16.09" fill="url(#hl)"/>
<text x="106.82" y="276.21" class="t" font-size="4.3" font-weight="bold" fill="#3a30c0" text-anchor="middle">3885</text>
<rect x="122.95" y="292.01" width="9.85" height="2.49" fill="#fff4f2" stroke="#58584f" stroke-width="1.2" rx="0.7"/>
<text x="127.88" y="291.01" class="t" font-size="4.3" font-weight="bold" fill="#3a30c0" text-anchor="middle">588</text>
<rect x="133.90" y="292.59" width="9.85" height="1.91" fill="url(#g1)" stroke="#58584f" stroke-width="1.2" rx="0.7"/>
<text x="138.82" y="291.59" class="t" font-size="4.3" font-weight="bold" fill="#3a30c0" text-anchor="middle">459</text>
<rect x="144.85" y="279.88" width="9.85" height="14.62" fill="url(#g2)" stroke="#58584f" stroke-width="1.2" rx="0.7"/>
<rect x="145.40" y="280.48" width="8.75" height="13.42" fill="url(#hl)"/>
<text x="149.78" y="278.88" class="t" font-size="4.3" font-weight="bold" fill="#3a30c0" text-anchor="middle">3290</text>
<rect x="155.80" y="278.33" width="9.85" height="16.17" fill="url(#g3)" stroke="#58584f" stroke-width="1.2" rx="0.7"/>
<rect x="156.35" y="278.93" width="8.75" height="14.97" fill="url(#hl)"/>
<text x="160.72" y="277.33" class="t" font-size="4.3" font-weight="bold" fill="#3a30c0" text-anchor="middle">3636</text>
<rect x="176.85" y="292.10" width="9.85" height="2.40" fill="#fff4f2" stroke="#58584f" stroke-width="1.2" rx="0.7"/>
<text x="181.77" y="291.10" class="t" font-size="4.3" font-weight="bold" fill="#3a30c0" text-anchor="middle">567</text>
<rect x="187.80" y="292.40" width="9.85" height="2.10" fill="url(#g1)" stroke="#58584f" stroke-width="1.2" rx="0.7"/>
<text x="192.72" y="291.40" class="t" font-size="4.3" font-weight="bold" fill="#3a30c0" text-anchor="middle">502</text>
<rect x="198.75" y="280.82" width="9.85" height="13.68" fill="url(#g2)" stroke="#58584f" stroke-width="1.2" rx="0.7"/>
<rect x="199.30" y="281.42" width="8.75" height="12.48" fill="url(#hl)"/>
<text x="203.67" y="279.82" class="t" font-size="4.3" font-weight="bold" fill="#3a30c0" text-anchor="middle">3080</text>
<rect x="209.70" y="278.45" width="9.85" height="16.05" fill="url(#g3)" stroke="#58584f" stroke-width="1.2" rx="0.7"/>
<rect x="210.25" y="279.05" width="8.75" height="14.85" fill="url(#hl)"/>
<text x="214.62" y="277.45" class="t" font-size="4.3" font-weight="bold" fill="#3a30c0" text-anchor="middle">3608</text>
<rect x="230.75" y="292.10" width="9.85" height="2.40" fill="#fff4f2" stroke="#58584f" stroke-width="1.2" rx="0.7"/>
<text x="235.67" y="291.10" class="t" font-size="4.3" font-weight="bold" fill="#3a30c0" text-anchor="middle">567</text>
<rect x="241.70" y="226.12" width="9.85" height="68.38" fill="url(#g1)" stroke="#58584f" stroke-width="1.2" rx="0.7"/>
<rect x="242.25" y="226.72" width="8.75" height="67.18" fill="url(#hl)"/>
<text x="246.62" y="225.12" class="t" font-size="4.3" font-weight="bold" fill="#3a30c0" text-anchor="middle">15266</text>
<rect x="252.65" y="280.06" width="9.85" height="14.44" fill="url(#g2)" stroke="#58584f" stroke-width="1.2" rx="0.7"/>
<rect x="253.20" y="280.66" width="8.75" height="13.24" fill="url(#hl)"/>
<text x="257.57" y="279.06" class="t" font-size="4.3" font-weight="bold" fill="#3a30c0" text-anchor="middle">3251</text>
<rect x="263.60" y="278.39" width="9.85" height="16.11" fill="url(#g3)" stroke="#58584f" stroke-width="1.2" rx="0.7"/>
<rect x="264.15" y="278.99" width="8.75" height="14.91" fill="url(#hl)"/>
<text x="268.52" y="277.39" class="t" font-size="4.3" font-weight="bold" fill="#3a30c0" text-anchor="middle">3622</text>
<rect x="284.65" y="292.14" width="9.85" height="2.36" fill="#fff4f2" stroke="#58584f" stroke-width="1.2" rx="0.7"/>
<text x="289.57" y="291.14" class="t" font-size="4.3" font-weight="bold" fill="#3a30c0" text-anchor="middle">560</text>
<rect x="295.60" y="225.85" width="9.85" height="68.65" fill="url(#g1)" stroke="#58584f" stroke-width="1.2" rx="0.7"/>
<rect x="296.15" y="226.45" width="8.75" height="67.45" fill="url(#hl)"/>
<text x="300.52" y="224.85" class="t" font-size="4.3" font-weight="bold" fill="#3a30c0" text-anchor="middle">15327</text>
<rect x="306.55" y="279.87" width="9.85" height="14.63" fill="url(#g2)" stroke="#58584f" stroke-width="1.2" rx="0.7"/>
<rect x="307.10" y="280.47" width="8.75" height="13.43" fill="url(#hl)"/>
<text x="311.47" y="278.87" class="t" font-size="4.3" font-weight="bold" fill="#3a30c0" text-anchor="middle">3292</text>
<rect x="317.50" y="278.27" width="9.85" height="16.23" fill="url(#g3)" stroke="#58584f" stroke-width="1.2" rx="0.7"/>
<rect x="318.05" y="278.87" width="8.75" height="15.03" fill="url(#hl)"/>
<text x="322.42" y="277.27" class="t" font-size="4.3" font-weight="bold" fill="#3a30c0" text-anchor="middle">3650</text>
<rect x="338.55" y="292.14" width="9.85" height="2.36" fill="#fff4f2" stroke="#58584f" stroke-width="1.2" rx="0.7"/>
<text x="343.47" y="291.14" class="t" font-size="4.3" font-weight="bold" fill="#3a30c0" text-anchor="middle">560</text>
<rect x="349.50" y="225.68" width="9.85" height="68.82" fill="url(#g1)" stroke="#58584f" stroke-width="1.2" rx="0.7"/>
<rect x="350.05" y="226.28" width="8.75" height="67.62" fill="url(#hl)"/>
<text x="354.42" y="224.68" class="t" font-size="4.3" font-weight="bold" fill="#3a30c0" text-anchor="middle">15365</text>
<rect x="360.45" y="279.50" width="9.85" height="15.00" fill="url(#g2)" stroke="#58584f" stroke-width="1.2" rx="0.7"/>
<rect x="361.00" y="280.10" width="8.75" height="13.80" fill="url(#hl)"/>
<text x="365.37" y="278.50" class="t" font-size="4.3" font-weight="bold" fill="#3a30c0" text-anchor="middle">3374</text>
<rect x="371.40" y="278.27" width="9.85" height="16.23" fill="url(#g3)" stroke="#58584f" stroke-width="1.2" rx="0.7"/>
<rect x="371.95" y="278.87" width="8.75" height="15.03" fill="url(#hl)"/>
<text x="376.32" y="277.27" class="t" font-size="4.3" font-weight="bold" fill="#3a30c0" text-anchor="middle">3650</text>
<rect x="392.45" y="291.95" width="9.85" height="2.55" fill="#fff4f2" stroke="#58584f" stroke-width="1.2" rx="0.7"/>
<text x="397.38" y="290.95" class="t" font-size="4.3" font-weight="bold" fill="#3a30c0" text-anchor="middle">602</text>
<rect x="403.40" y="225.68" width="9.85" height="68.82" fill="url(#g1)" stroke="#58584f" stroke-width="1.2" rx="0.7"/>
<rect x="403.95" y="226.28" width="8.75" height="67.62" fill="url(#hl)"/>
<text x="408.32" y="224.68" class="t" font-size="4.3" font-weight="bold" fill="#3a30c0" text-anchor="middle">15365</text>
<rect x="414.35" y="279.76" width="9.85" height="14.74" fill="url(#g2)" stroke="#58584f" stroke-width="1.2" rx="0.7"/>
<rect x="414.90" y="280.36" width="8.75" height="13.54" fill="url(#hl)"/>
<text x="419.27" y="278.76" class="t" font-size="4.3" font-weight="bold" fill="#3a30c0" text-anchor="middle">3318</text>
<rect x="425.30" y="278.33" width="9.85" height="16.17" fill="url(#g3)" stroke="#58584f" stroke-width="1.2" rx="0.7"/>
<rect x="425.85" y="278.93" width="8.75" height="14.97" fill="url(#hl)"/>
<text x="430.23" y="277.33" class="t" font-size="4.3" font-weight="bold" fill="#3a30c0" text-anchor="middle">3636</text>
<rect x="63.60" y="214.30" width="377.30" height="80.80" fill="none" stroke="#525252" stroke-width="1.3"/>
<text x="58.60" y="297.90" class="t" font-size="8.5" fill="#1a1a1a" stroke="#1a1a1a" stroke-width="0.2" text-anchor="end">0</text>
<line x1="63.60" y1="281.63" x2="67.60" y2="281.63" stroke="#333" stroke-width="1.1"/>
<line x1="436.90" y1="281.63" x2="440.90" y2="281.63" stroke="#333" stroke-width="1.1"/>
<text x="58.60" y="284.43" class="t" font-size="8.5" fill="#1a1a1a" stroke="#1a1a1a" stroke-width="0.2" text-anchor="end">3000</text>
<line x1="63.60" y1="268.17" x2="67.60" y2="268.17" stroke="#333" stroke-width="1.1"/>
<line x1="436.90" y1="268.17" x2="440.90" y2="268.17" stroke="#333" stroke-width="1.1"/>
<text x="58.60" y="270.97" class="t" font-size="8.5" fill="#1a1a1a" stroke="#1a1a1a" stroke-width="0.2" text-anchor="end">6000</text>
<line x1="63.60" y1="254.70" x2="67.60" y2="254.70" stroke="#333" stroke-width="1.1"/>
<line x1="436.90" y1="254.70" x2="440.90" y2="254.70" stroke="#333" stroke-width="1.1"/>
<text x="58.60" y="257.50" class="t" font-size="8.5" fill="#1a1a1a" stroke="#1a1a1a" stroke-width="0.2" text-anchor="end">9000</text>
<line x1="63.60" y1="241.23" x2="67.60" y2="241.23" stroke="#333" stroke-width="1.1"/>
<line x1="436.90" y1="241.23" x2="440.90" y2="241.23" stroke="#333" stroke-width="1.1"/>
<text x="58.60" y="244.03" class="t" font-size="8.5" fill="#1a1a1a" stroke="#1a1a1a" stroke-width="0.2" text-anchor="end">12000</text>
<line x1="63.60" y1="227.77" x2="67.60" y2="227.77" stroke="#333" stroke-width="1.1"/>
<line x1="436.90" y1="227.77" x2="440.90" y2="227.77" stroke="#333" stroke-width="1.1"/>
<text x="58.60" y="230.57" class="t" font-size="8.5" fill="#1a1a1a" stroke="#1a1a1a" stroke-width="0.2" text-anchor="end">15000</text>
<text x="58.60" y="217.10" class="t" font-size="8.5" fill="#1a1a1a" stroke="#1a1a1a" stroke-width="0.2" text-anchor="end">18000</text>
<line x1="90.55" y1="214.30" x2="90.55" y2="218.30" stroke="#222" stroke-width="1.1"/>
<line x1="144.45" y1="214.30" x2="144.45" y2="218.30" stroke="#222" stroke-width="1.1"/>
<line x1="198.35" y1="214.30" x2="198.35" y2="218.30" stroke="#222" stroke-width="1.1"/>
<line x1="252.25" y1="214.30" x2="252.25" y2="218.30" stroke="#222" stroke-width="1.1"/>
<line x1="306.15" y1="214.30" x2="306.15" y2="218.30" stroke="#222" stroke-width="1.1"/>
<line x1="360.05" y1="214.30" x2="360.05" y2="218.30" stroke="#222" stroke-width="1.1"/>
<line x1="413.95" y1="214.30" x2="413.95" y2="218.30" stroke="#222" stroke-width="1.1"/>
<line x1="63.60" y1="293.10" x2="63.60" y2="297.10" stroke="#222" stroke-width="1.2"/>
<line x1="117.50" y1="293.10" x2="117.50" y2="297.10" stroke="#222" stroke-width="1.2"/>
<line x1="171.40" y1="293.10" x2="171.40" y2="297.10" stroke="#222" stroke-width="1.2"/>
<line x1="225.30" y1="293.10" x2="225.30" y2="297.10" stroke="#222" stroke-width="1.2"/>
<line x1="279.20" y1="293.10" x2="279.20" y2="297.10" stroke="#222" stroke-width="1.2"/>
<line x1="333.10" y1="293.10" x2="333.10" y2="297.10" stroke="#222" stroke-width="1.2"/>
<line x1="387.00" y1="293.10" x2="387.00" y2="297.10" stroke="#222" stroke-width="1.2"/>
<line x1="440.90" y1="293.10" x2="440.90" y2="297.10" stroke="#222" stroke-width="1.2"/>
<text x="90.55" y="306.40" class="t" font-size="8.6" fill="#1a1a1a" stroke="#1a1a1a" stroke-width="0.2" text-anchor="middle">LASV</text>
<text x="144.45" y="306.40" class="t" font-size="8.6" fill="#1a1a1a" stroke="#1a1a1a" stroke-width="0.2" text-anchor="middle">CHAPV</text>
<text x="198.35" y="306.40" class="t" font-size="8.6" fill="#1a1a1a" stroke="#1a1a1a" stroke-width="0.2" text-anchor="middle">LUJV</text>
<text x="252.25" y="306.40" class="t" font-size="8.6" fill="#1a1a1a" stroke="#1a1a1a" stroke-width="0.2" text-anchor="middle">GTOV</text>
<text x="306.15" y="306.40" class="t" font-size="8.6" fill="#1a1a1a" stroke="#1a1a1a" stroke-width="0.2" text-anchor="middle">JUNV</text>
<text x="360.05" y="306.40" class="t" font-size="8.6" fill="#1a1a1a" stroke="#1a1a1a" stroke-width="0.2" text-anchor="middle">MACV</text>
<text x="413.95" y="306.40" class="t" font-size="8.6" fill="#1a1a1a" stroke="#1a1a1a" stroke-width="0.2" text-anchor="middle">SABV</text>
<text transform="translate(31.3 258.60) rotate(-90)" x="0" y="0" class="t" font-size="8.25" font-weight="bold" fill="#111" text-anchor="middle">No of HTL Epitopes</text>
<text x="0.4" y="261.4" class="t" font-size="10.6" font-weight="bold" fill="#111">C</text>
<rect x="453.1" y="223.60" width="20.6" height="13.2" rx="2.4" fill="#fbb8c0" stroke="#87879a" stroke-width="1.3"/>
<text x="477.4" y="234.50" font-family="Liberation Serif, serif" font-style="italic" font-size="11.1" letter-spacing="-0.2" fill="#2f9cd6" stroke="#2f9cd6" stroke-width="0.15">Protein Z</text>
<rect x="453.1" y="240.40" width="20.6" height="13.2" rx="2.4" fill="#fccdb1" stroke="#87879a" stroke-width="1.3"/>
<text x="477.4" y="251.30" font-family="Liberation Serif, serif" font-style="italic" font-size="11.1" letter-spacing="-0.2" fill="#2f9cd6" stroke="#2f9cd6" stroke-width="0.15">Protein L</text>
<rect x="453.1" y="257.00" width="20.6" height="13.2" rx="2.4" fill="#fdf4ae" stroke="#87879a" stroke-width="1.3"/>
<text x="477.4" y="267.90" font-family="Liberation Serif, serif" font-style="italic" font-size="11.1" letter-spacing="-0.2" fill="#2f9cd6" stroke="#2f9cd6" stroke-width="0.15">Protein G</text>
<rect x="453.1" y="273.70" width="20.6" height="13.2" rx="2.4" fill="#b6f3b0" stroke="#87879a" stroke-width="1.3"/>
<text x="477.4" y="284.60" font-family="Liberation Serif, serif" font-style="italic" font-size="11.1" letter-spacing="-0.2" fill="#2f9cd6" stroke="#2f9cd6" stroke-width="0.15">Protein N</text>
<text x="490.2" y="302.6" font-family="Liberation Serif, serif" font-size="7.8" fill="#666">3</text>
</svg></body></html>
